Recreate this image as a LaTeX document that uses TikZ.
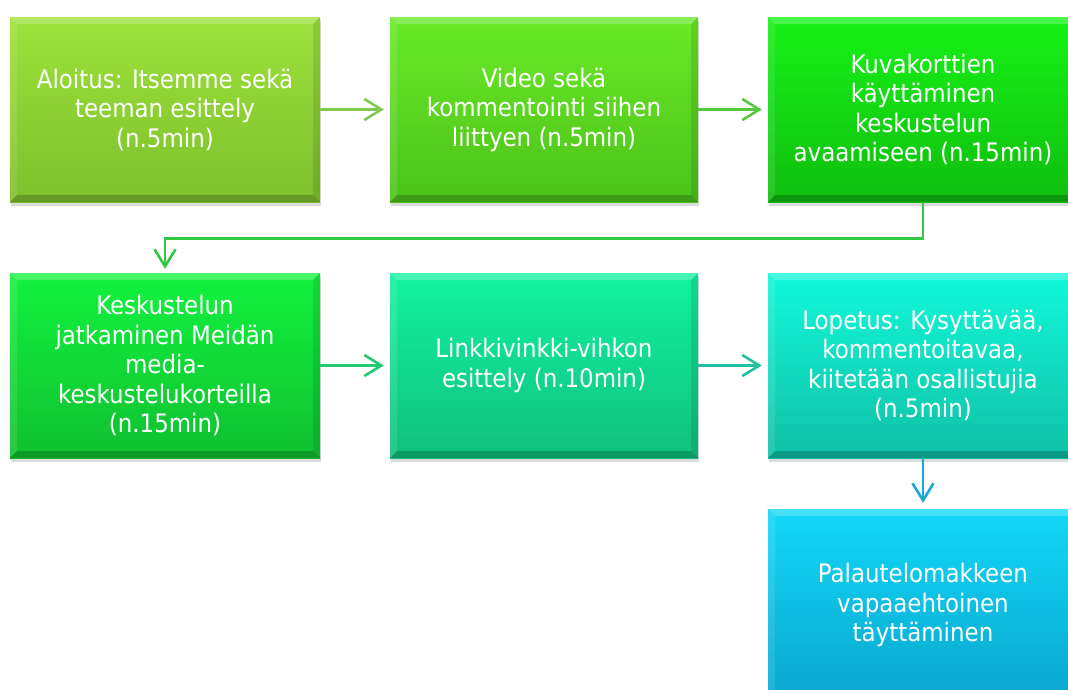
\documentclass[tikz,border=0pt]{standalone}
\usepackage{fontspec}
\setmainfont{DejaVu Sans Condensed}
\usetikzlibrary{arrows.meta,shadows}
\definecolor{c1t}{HTML}{9DE23C}\definecolor{c1b}{HTML}{7CC02C}
\definecolor{c2t}{HTML}{6AEA28}\definecolor{c2b}{HTML}{4CC21A}
\definecolor{c3t}{HTML}{16F216}\definecolor{c3b}{HTML}{10BE10}
\definecolor{c4t}{HTML}{12F23E}\definecolor{c4b}{HTML}{10C030}
\definecolor{c5t}{HTML}{12F2A0}\definecolor{c5b}{HTML}{10C07E}
\definecolor{c6t}{HTML}{12F8DA}\definecolor{c6b}{HTML}{10C0A6}
\definecolor{c7t}{HTML}{12D8F8}\definecolor{c7b}{HTML}{0AA6CE}
\definecolor{a1}{HTML}{82C850}\definecolor{a2}{HTML}{56C840}
\definecolor{a3}{HTML}{30C840}\definecolor{a4}{HTML}{24C872}
\definecolor{a5}{HTML}{20C0A0}\definecolor{a6}{HTML}{1AA8D0}
\tikzset{
  flowbox/.style={rectangle, minimum width=310pt, minimum height=185pt,
    inner sep=0pt, text=white, align=center,
    font=\fontsize{25.5}{29.5}\selectfont,
    drop shadow={shadow xshift=1pt, shadow yshift=-4pt, opacity=0.28},
    path picture={
      \fill[white,opacity=.22] (path picture bounding box.north west) -- (path picture bounding box.north east)
        -- ([xshift=-7pt,yshift=-7pt]path picture bounding box.north east) -- ([xshift=7pt,yshift=-7pt]path picture bounding box.north west) -- cycle;
      \fill[white,opacity=.10] (path picture bounding box.north west) -- (path picture bounding box.south west)
        -- ([xshift=7pt,yshift=7pt]path picture bounding box.south west) -- ([xshift=7pt,yshift=-7pt]path picture bounding box.north west) -- cycle;
      \fill[black,opacity=.10] (path picture bounding box.north east) -- (path picture bounding box.south east)
        -- ([xshift=-7pt,yshift=7pt]path picture bounding box.south east) -- ([xshift=-7pt,yshift=-7pt]path picture bounding box.north east) -- cycle;
      \fill[black,opacity=.20] (path picture bounding box.south west) -- (path picture bounding box.south east)
        -- ([xshift=-7pt,yshift=7pt]path picture bounding box.south east) -- ([xshift=7pt,yshift=7pt]path picture bounding box.south west) -- cycle;
    }},
  flowarrow/.style={line width=2.6pt, -{Straight Barb[length=17pt,width=21pt,line width=2.6pt]}}
}
\begin{document}
\begin{tikzpicture}[x=1pt,y=-1pt]
\useasboundingbox (0,0) rectangle (1068,689);
\fill[white] (0,0) rectangle (1068,689);
\clip (0,0) rectangle (1068,689);
\node[flowbox, top color=c1t, bottom color=c1b] (b1) at (165,109.5) {Aloitus: Itsemme sekä\\teeman esittely\\(n.5min)};
\node[flowbox, minimum width=308pt, top color=c2t, bottom color=c2b] (b2) at (544,109.5) {Video sekä\\kommentointi siihen\\liittyen (n.5min)};
\node[flowbox, top color=c3t, bottom color=c3b] (b3) at (923,109.5) {Kuvakorttien\\käyttäminen\\keskustelun\\avaamiseen (n.15min)};
\node[flowbox, top color=c4t, bottom color=c4b] (b4) at (165,365.5) {Keskustelun\\jatkaminen Meidän\\media-\\keskustelukorteilla\\(n.15min)};
\node[flowbox, minimum width=308pt, top color=c5t, bottom color=c5b] (b5) at (544,365.5) {Linkkivinkki-vihkon\\esittely (n.10min)};
\node[flowbox, top color=c6t, bottom color=c6b] (b6) at (923,365.5) {Lopetus: Kysyttävää,\\kommentoitavaa,\\kiitetään osallistujia\\(n.5min)};
\node[flowbox, minimum height=192pt, top color=c7t, bottom color=c7b] (b7) at (923,605) {Palautelomakkeen\\vapaaehtoinen\\täyttäminen};
\draw[flowarrow, a1, shorten >=6pt] (b1.east) -- (b2.west);
\draw[flowarrow, a2, shorten >=6pt] (b2.east) -- (b3.west);
\draw[flowarrow, a3, shorten >=4pt] (b3.south) -- ++(0,36) -| (b4.north);
\draw[flowarrow, a4, shorten >=6pt] (b4.east) -- (b5.west);
\draw[flowarrow, a5, shorten >=6pt] (b5.east) -- (b6.west);
\draw[flowarrow, a6, shorten >=6pt] (b6.south) -- (b7.north);
\end{tikzpicture}
\end{document}
